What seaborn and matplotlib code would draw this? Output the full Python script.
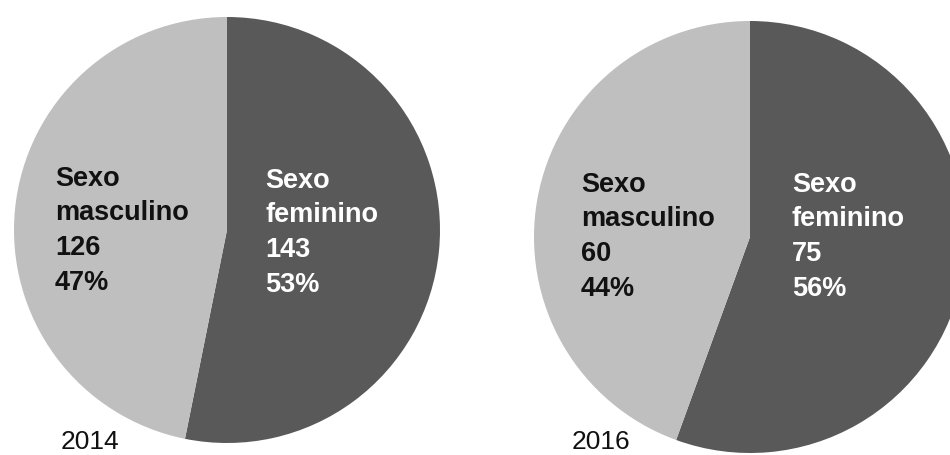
import matplotlib
matplotlib.use("Agg")
import matplotlib.pyplot as plt
import seaborn as sns

# Sex distribution per year
years = ["2014", "2016"]
categories = ["Sexo feminino", "Sexo masculino"]
counts_2014 = [143, 126]
counts_2016 = [75, 60]
percent_2014 = [53, 47]
percent_2016 = [56, 44]

sns.set_theme(style="white")
plt.rcParams["font.family"] = ["Liberation Sans", "DejaVu Sans"]

palette = sns.color_palette(["#595959", "#bfbfbf"])
text_colors = ["white", "#111111"]

W, H = 950, 455
LINE_STEP = 34.5  # pixels between label baselines

fig = plt.figure(figsize=(W / 100, H / 100), dpi=100)
ax = fig.add_axes([0, 0, 1, 1])

pies = [
    dict(counts=counts_2014, pct=percent_2014, year=years[0],
         center=(227, H - 230), radius=213,
         label_xy=[(265, 188), (55, 186)], year_xy=(61, 449)),
    dict(counts=counts_2016, pct=percent_2016, year=years[1],
         center=(750, H - 237), radius=216,
         label_xy=[(792, 192), (581, 192)], year_xy=(572, 449)),
]

for p in pies:
    ax.pie(p["counts"], colors=palette, startangle=90, counterclock=False,
           center=p["center"], radius=p["radius"],
           wedgeprops=dict(linewidth=0))
    for i, cat in enumerate(categories):
        x, y = p["label_xy"][i]
        word1, word2 = cat.split(" ")
        lines = [word1, word2, str(p["counts"][i]), f"{p['pct'][i]}%"]
        for k, line in enumerate(lines):
            ax.text(x, H - (y + k * LINE_STEP), line, color=text_colors[i],
                    fontsize=19.5, fontweight="bold", ha="left", va="baseline")
    ax.text(p["year_xy"][0], H - p["year_xy"][1], p["year"], fontsize=19,
            color="#111111", ha="left", va="baseline")

ax.set_xlim(0, W)
ax.set_ylim(0, H)
ax.set_aspect("equal")
ax.axis("off")

fig.savefig("out.png", dpi=100, facecolor="white")
